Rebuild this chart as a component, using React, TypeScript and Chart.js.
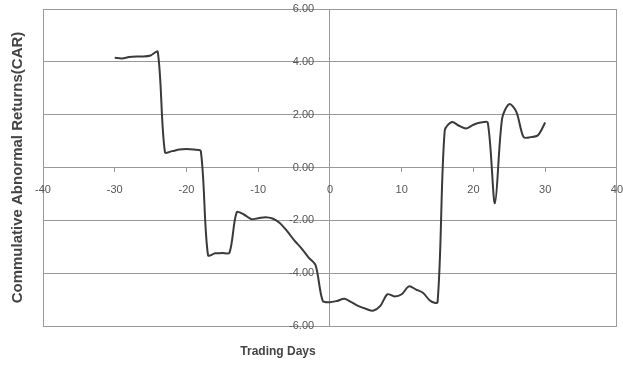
import React, { useEffect, useRef } from "react";
import { Chart, registerables } from "chart.js";

Chart.register(...registerables);

const days = [
  -30, -29, -28, -27, -26, -25, -24, -23, -22, -21, -20, -19, -18, -17, -16, -15,
  -14, -13, -12, -11, -10, -9, -8, -7, -6, -5, -4, -3, -2, -1, 0, 1, 2, 3, 4, 5,
  6, 7, 8, 9, 10, 11, 12, 13, 14, 15, 16, 17, 18, 19, 20, 21, 22, 23, 24, 25, 26,
  27, 28, 29, 30,
];

const car = [
  4.15, 4.13, 4.18, 4.2, 4.2, 4.24, 4.38, 0.58, 0.62, 0.68, 0.7, 0.68, 0.62, -3.32,
  -3.25, -3.24, -3.22, -1.7, -1.78, -1.95, -1.92, -1.88, -1.93, -2.1, -2.4, -2.75,
  -3.05, -3.4, -3.7, -5.05, -5.1, -5.05, -4.97, -5.1, -5.25, -5.35, -5.42, -5.25,
  -4.8, -4.88, -4.8, -4.5, -4.62, -4.75, -5.05, -5.1, 1.4, 1.72, 1.58, 1.48, 1.62,
  1.7, 1.7, -1.35, 1.85, 2.4, 2.1, 1.15, 1.15, 1.22, 1.7,
];

const xTitle = "Trading Days";
const yTitle = "Commulative Abnormal Returns(CAR)";

export default function App() {
  const ref = useRef<HTMLCanvasElement>(null);

  useEffect(() => {
    if (!ref.current) return;
    Chart.defaults.font.family = "'Liberation Sans', Arial, sans-serif";
    const chart = new Chart(ref.current, {
      type: "line",
      data: {
        datasets: [
          {
            data: days.map((d, i) => ({ x: d, y: car[i] })),
            borderColor: "#3a3a3a",
            borderWidth: 2,
            pointRadius: 0,
            tension: 0.3,
            fill: false,
          },
        ],
      },
      options: {
        animation: false,
        responsive: true,
        maintainAspectRatio: false,
        layout: { padding: { top: 9, right: 0, bottom: 40, left: 0 } },
        plugins: { legend: { display: false }, tooltip: { enabled: false } },
        scales: {
          x: {
            type: "linear",
            position: { y: 0 },
            min: -40,
            max: 40,
            ticks: {
              stepSize: 10,
              autoSkip: false,
              color: "#555555",
              font: { size: 11 },
              padding: 0,
              maxRotation: 0,
            },
            grid: {
              color: (ctx: any) =>
                ctx.tick &&
                (ctx.tick.value === -40 || ctx.tick.value === 40 || ctx.tick.value === 0)
                  ? "#999999"
                  : "rgba(0,0,0,0)",
              tickColor: "rgba(0,0,0,0)",
              tickLength: 16,
              lineWidth: 1,
            },
            border: { display: true, color: "#999999", width: 1 },
          },
          xTicks: {
            type: "linear",
            axis: "x",
            position: { y: 0 },
            min: -40,
            max: 40,
            ticks: { display: false, stepSize: 10 },
            grid: {
              drawOnChartArea: false,
              tickColor: "#999999",
              tickLength: 4,
            },
            border: { display: false },
          },
          y: {
            type: "linear",
            position: { x: -2.2 },
            min: -6,
            max: 6,
            ticks: {
              stepSize: 2,
              color: "#555555",
              font: { size: 11 },
              padding: 0,
              callback: (v: any) => Number(v).toFixed(2),
            },
            grid: { color: "#999999", tickColor: "rgba(0,0,0,0)", tickLength: 2 },
            border: { display: false },
          },
          y2: {
            type: "linear",
            axis: "y",
            position: "left",
            display: true,
            ticks: { display: false },
            grid: { display: false, drawTicks: false },
            border: { display: false },
            title: {
              display: true,
              text: yTitle,
              color: "#444444",
              font: { size: 15, weight: "bold" },
              padding: { top: 9, bottom: 16 },
            },
          },
        },
      },
    });
    return () => chart.destroy();
  }, []);

  return (
    <div
      style={{
        position: "absolute",
        left: 0,
        top: 0,
        width: 623,
        height: 366,
        background: "#ffffff",
      }}
    >
      <canvas ref={ref} />
      <div
        style={{
          position: "absolute",
          left: 240,
          top: 344,
          width: 76,
          fontFamily: "'Liberation Sans', Arial, sans-serif",
          fontSize: 12,
          fontWeight: "bold",
          color: "#444444",
          whiteSpace: "nowrap",
          textAlign: "center",
        }}
      >
        {xTitle}
      </div>
    </div>
  );
}
